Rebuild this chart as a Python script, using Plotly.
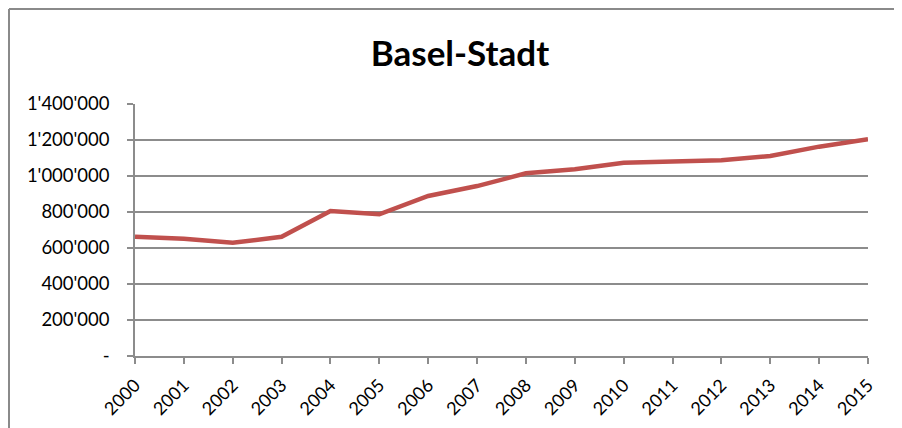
import plotly.graph_objects as go

years = [str(y) for y in range(2000, 2016)]
values = [663000, 651000, 629000, 662000, 806000, 787000, 889000, 944000,
          1015000, 1037000, 1074000, 1080000, 1087000, 1111000, 1163000, 1204000]
ytick_vals = [0, 200000, 400000, 600000, 800000, 1000000, 1200000, 1400000]
ytick_text = ["-", "200'000", "400'000", "600'000", "800'000", "1'000'000", "1'200'000", "1'400'000"]

font = "Lato, Carlito, Calibri, sans-serif"
grid = "#8c8c8c"

fig = go.Figure()
fig.add_trace(go.Scatter(x=list(range(len(years))), y=values, mode="lines",
                         line=dict(color="#C0504D", width=4.5), hoverinfo="y"))

# page has an 8px body margin; figure coordinates = screen - 8
OFF = 8
W, H = 902, 428
L = 135 - OFF
T = 104 - OFF
R = W - (868 - OFF)
B = H - (356 - OFF)
pw, ph = W - L - R, H - T - B
bx = (1 - L) / pw
by = 1 + (T - 1) / ph
fig.add_shape(type="line", xref="paper", yref="paper", x0=bx, x1=1.2, y0=by, y1=by,
              line=dict(color="#8a8a8a", width=2))
fig.add_shape(type="line", xref="paper", yref="paper", x0=bx, x1=bx, y0=by, y1=-0.4,
              line=dict(color="#8a8a8a", width=2))

fig.update_layout(
    width=W, height=H,
    margin=dict(l=L, r=R, t=T, b=B),
    paper_bgcolor="white", plot_bgcolor="white",
    showlegend=False,
    font=dict(family=font, color="#000", size=15),
    title=dict(text="<b>Basel-Stadt</b>", x=(460 - OFF) / W, xref="container", xanchor="center",
               y=1 - (54 - OFF) / H, yref="container", yanchor="middle",
               font=dict(family=font, size=35, color="#000")),
    xaxis=dict(range=[0, 15], tickvals=list(range(len(years))), ticktext=years,
               tickangle=-45, ticks="outside", ticklen=6, tickcolor=grid, tickwidth=1.5,
               showline=True, linecolor=grid, linewidth=1.5, showgrid=False, zeroline=False,
               ticklabelstandoff=4,
               tickfont=dict(size=18, family=font, color="#000")),
    yaxis=dict(range=[0, 1400000], tickvals=ytick_vals, ticktext=ytick_text,
               ticks="outside", ticklen=6, tickcolor=grid, tickwidth=1.5,
               showline=True, linecolor=grid, linewidth=1.5,
               showgrid=True, gridcolor=grid, gridwidth=1.5, zeroline=False,
               ticklabelstandoff=14,
               tickfont=dict(size=18.5, family=font, color="#000")),
)

fig.write_html("out.html")
